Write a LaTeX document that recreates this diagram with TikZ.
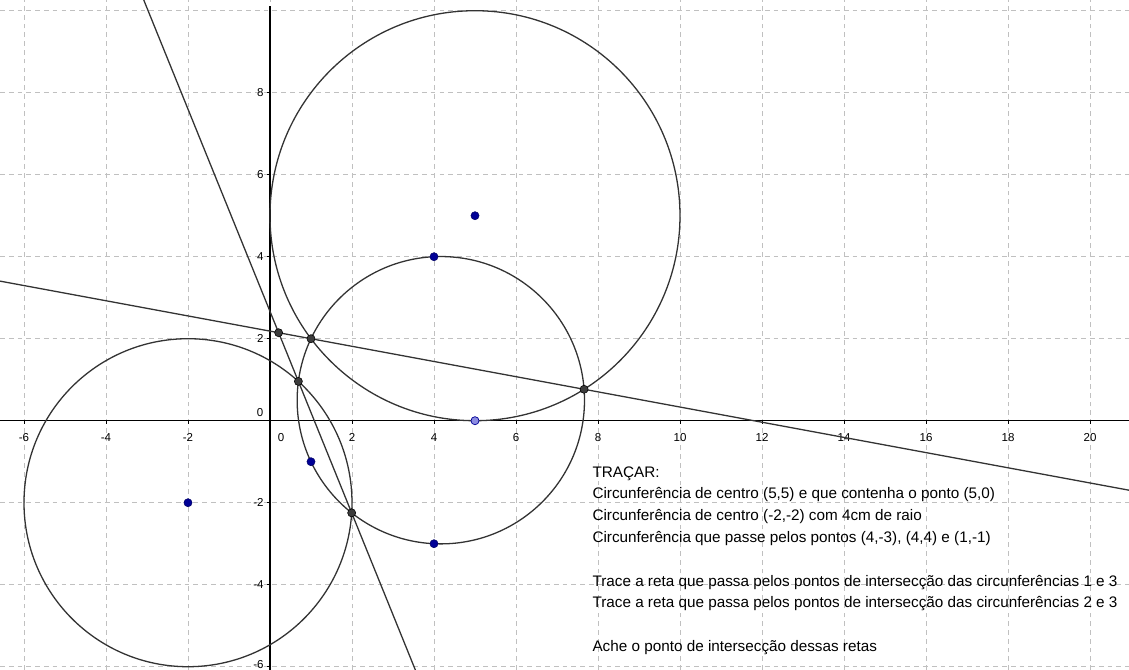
\documentclass[tikz,border=0pt]{standalone}
\usepackage{fontspec}
\setmainfont{Liberation Sans}
\definecolor{ptblue}{RGB}{0,0,150}
\definecolor{ptlight}{RGB}{140,140,225}
\definecolor{ptdark}{RGB}{60,60,60}
\definecolor{gridgray}{RGB}{192,192,192}
\begin{document}
\begin{tikzpicture}[x=1cm,y=1cm,
  gridline/.style={draw=gridgray, dash pattern=on 3.3pt off 2.8pt, line width=0.5pt},
  axisline/.style={draw=black, line width=0.8pt},
  curve/.style={draw=black!80, line width=0.9pt},
  ticklab/.style={font=\fontsize{8}{9}\selectfont, inner sep=0pt},
  bluept/.style={circle, fill=ptblue, draw=black!60!blue, line width=0.4pt, inner sep=0pt, minimum size=5.6pt},
  lightpt/.style={circle, fill=ptlight, draw=ptblue, line width=0.5pt, inner sep=0pt, minimum size=5.6pt},
  darkpt/.style={circle, fill=ptdark, draw=black, line width=0.4pt, inner sep=0pt, minimum size=5.6pt},
  task/.style={font=\fontsize{10.6}{12}\selectfont, anchor=base west, inner sep=0pt}
]
\useasboundingbox (-6.585,-6.080) rectangle (20.951,10.261);
\clip (-6.585,-6.080) rectangle (20.951,10.261);
% grid
\foreach \x in {-6,-4,...,20} \draw[gridline] (\x,-6.08) -- (\x,10.261);
\foreach \y in {-6,-4,...,10} \draw[gridline] (-6.585,\y) -- (20.951,\y);
% axes
\draw[axisline] (-6.585,0) -- (20.951,0);
\draw[axisline] (0,-6.08) -- (0,10.11);
\foreach \x in {-6,-4,-2,2,4,...,20} {
  \draw[line width=0.6pt] (\x,0) -- (\x,-0.08);
  \node[ticklab] (xl\x) at (\x,-0.42) {\x};
}
\foreach \y in {-4,-2,2,4,6,8} {
  \draw[line width=0.6pt] (0,\y) -- (-0.08,\y);
  \node[ticklab, anchor=east] (yl\y) at (-0.15,\y) {\y};
}
\draw[line width=0.6pt] (0,-6) -- (-0.08,-6);
\node[ticklab, anchor=south east] (yl-6) at (-0.15,-6.05) {-6};
\node[ticklab] (xl0) at (0.27,-0.42) {0};
\node[ticklab] (yl0) at (-0.24,0.19) {0};
% circle centres and given points
\coordinate (C1) at (5,5);
\coordinate (C2) at (-2,-2);
\coordinate (C3) at (4.16667,0.5);
\draw[curve] (C1) circle (5);
\draw[curve] (C2) circle (4);
\draw[curve] (C3) circle (3.50397);
% radical axes
\coordinate (L1a) at (-6.585,3.4046);
\coordinate (L1b) at (20.951,-1.6946);
\coordinate (L2a) at (-3.0788,10.261);
\coordinate (L2b) at (3.5459,-6.080);
\draw[curve] (L1a) -- (L1b);
\draw[curve] (L2a) -- (L2b);
% points
\node[bluept] (A) at (5,5) {};
\node[bluept] (B) at (-2,-2) {};
\node[bluept] (P1) at (4,-3) {};
\node[bluept] (P2) at (4,4) {};
\node[bluept] (P3) at (1,-1) {};
\node[lightpt] (P0) at (5,0) {};
\node[darkpt] (I1) at (1,2) {};
\node[darkpt] (I2) at (7.6605,0.7666) {};
\node[darkpt] (I3) at (1.9924,-2.2481) {};
\node[darkpt] (I4) at (0.69275,0.9588) {};
\node[darkpt] (X) at (0.2110,2.1461) {};
% text
\node[task] (t0) at (7.86,-1.373) {TRAÇAR:};
\node[task] (t1) at (7.86,-1.905) {Circunferência de centro (5,5) e que contenha o ponto (5,0)};
\node[task] (t2) at (7.86,-2.437) {Circunferência de centro (-2,-2) com 4cm de raio};
\node[task] (t3) at (7.86,-2.968) {Circunferência que passe pelos pontos (4,-3), (4,4) e (1,-1)};
\node[task] (t4) at (7.86,-4.032) {Trace a reta que passa pelos pontos de intersecção das circunferências 1 e 3};
\node[task] (t5) at (7.86,-4.564) {Trace a reta que passa pelos pontos de intersecção das circunferências 2 e 3};
\node[task] (t6) at (7.86,-5.627) {Ache o ponto de intersecção dessas retas};
\end{tikzpicture}
\end{document}
